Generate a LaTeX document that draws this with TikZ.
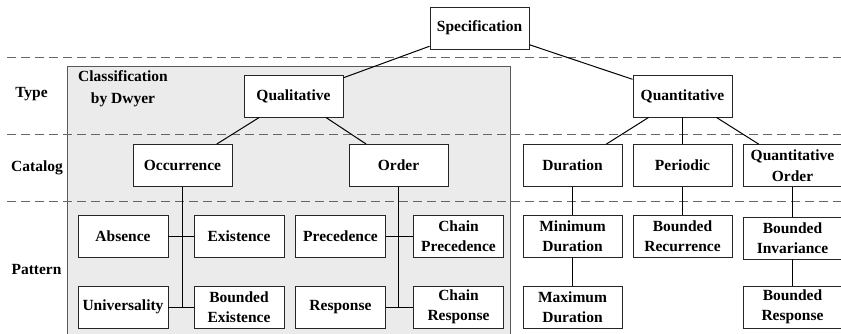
\documentclass[tikz,border=0pt]{standalone}
\usepackage{fontspec}
\setmainfont{Liberation Serif}
\definecolor{panel}{HTML}{EBEBEB}
\begin{document}
\begin{tikzpicture}[x=1pt,y=-1pt,
  box/.style={draw=black!85, line width=0.9pt, fill=white, minimum width=99pt,
    minimum height=42pt, inner sep=1pt, align=center,
    font=\fontsize{15.5}{20.5}\selectfont\bfseries},
  pbox/.style={box, minimum width=90pt},
  lbl/.style={font=\fontsize{15.5}{22}\selectfont\bfseries, align=center},
  link/.style={line width=1pt, black},
  sep/.style={dash pattern=on 9pt off 5pt, line width=1.1pt, black!60}]
\useasboundingbox (0,0) rectangle (841,333);
\clip (0,0) rectangle (841,333);

% Dwyer panel
\draw[draw=black!65, line width=1pt, fill=panel] (67,66) rectangle (510.7,345);

% level separators
\draw[sep] (7,57.5) -- (841,57.5);
\draw[sep] (7,134.5) -- (841,134.5);
\draw[sep] (7,201.5) -- (841,201.5);

% level labels
\node[lbl] (ltype) at (31.5,94) {Type};
\node[lbl] (lcat) at (37,168) {Catalog};
\node[lbl] (lpat) at (36.5,269) {Pattern};
\node[lbl] (cls) at (123,89) {Classification\\by Dwyer};

% nodes
\node[box] (spec) at (479.5,28) {Specification};
\node[box] (qual) at (293.5,96) {Qualitative};
\node[box] (quant) at (682.5,96) {Quantitative};

\node[box] (occ) at (182.5,165.5) {Occurrence};
\node[box] (order) at (398.5,165.5) {Order};
\node[box] (dur) at (572.5,165.5) {Duration};
\node[box] (per) at (682.5,165.5) {Periodic};
\node[box] (qorder) at (792.5,165.5) {Quantitative\\Order};

\node[pbox] (abs) at (123,236) {Absence};
\node[pbox] (exi) at (239,236) {Existence};
\node[pbox] (prec) at (340.5,236) {Precedence};
\node[pbox] (cprec) at (458.5,236) {Chain\\Precedence};
\node[pbox] (uni) at (123,307) {Universality};
\node[pbox] (bexi) at (239,307) {Bounded\\Existence};
\node[pbox] (resp) at (340.5,307) {Response};
\node[pbox] (cresp) at (458.5,307) {Chain\\Response};

\node[box] (mind) at (572.5,236) {Minimum\\Duration};
\node[box] (maxd) at (572.5,307) {Maximum\\Duration};
\node[box] (brec) at (682.5,236) {Bounded\\Recurrence};
\node[box] (binv) at (792.5,238) {Bounded\\Invariance};
\node[box] (bresp) at (792.5,307) {Bounded\\Response};

% tree connectors
\draw[link] (spec) -- (qual);
\draw[link] (spec) -- (quant);
\draw[link] (qual) -- (occ);
\draw[link] (qual) -- (order);
\draw[link] (quant) -- (dur);
\draw[link] (quant) -- (per);
\draw[link] (quant) -- (qorder);

\draw[link] (occ.south) -- (occ |- uni);
\draw[link] (abs.east) -- (exi.west);
\draw[link] (uni.east) -- (bexi.west);
\draw[link] (order.south) -- (order |- resp);
\draw[link] (prec.east) -- (cprec.west);
\draw[link] (resp.east) -- (cresp.west);

\draw[link] (dur) -- (mind);
\draw[link] (mind) -- (maxd);
\draw[link] (per) -- (brec);
\draw[link] (qorder) -- (binv);
\draw[link] (binv) -- (bresp);
\end{tikzpicture}
\end{document}
